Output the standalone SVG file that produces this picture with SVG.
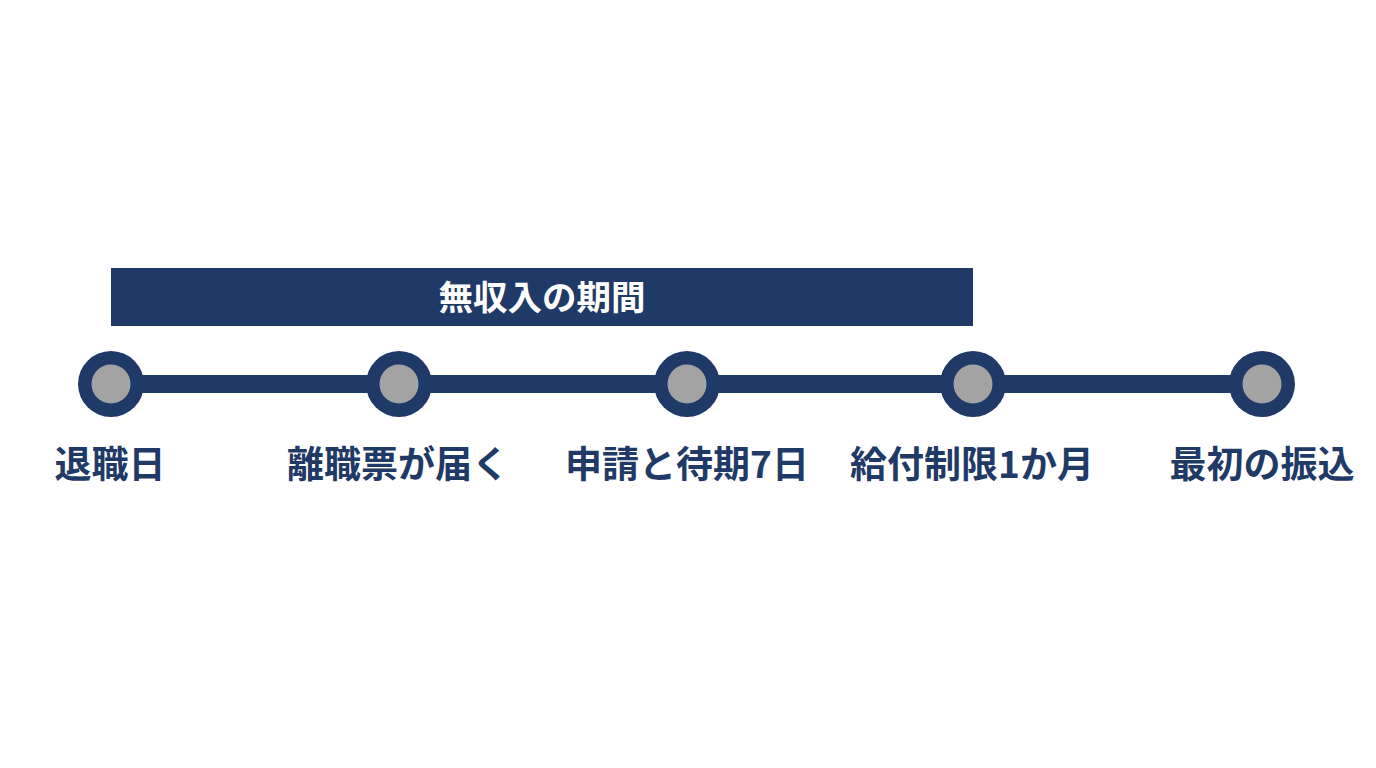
<svg xmlns="http://www.w3.org/2000/svg" width="1376" height="768" viewBox="0 0 1376 768">
<style>
.lbl{font-family:"Noto Sans CJK JP","Noto Sans",sans-serif;font-weight:700;font-size:37px;fill:#1f3a66;text-anchor:middle}
.ttl{font-family:"Noto Sans CJK JP","Noto Sans",sans-serif;font-weight:700;font-size:34.5px;fill:#ffffff;text-anchor:middle}
.outer{fill:#1f3a66}
.inner{fill:#a3a3a3}
</style>
<rect width="1376" height="768" fill="#ffffff"/>
<g id="period">
<rect x="111" y="268" width="862" height="58" fill="#1f3a66"/>
<text class="ttl" x="542" y="310">無収入の期間</text>
</g>
<g id="connectors">
<line x1="111" y1="384" x2="1262" y2="384" stroke="#1f3a66" stroke-width="18"/>
</g>
<g id="n1"><circle class="outer" cx="111" cy="384" r="33"/><circle class="inner" cx="111" cy="384" r="19.5"/><text class="lbl" x="110" y="478">退職日</text></g>
<g id="n2"><circle class="outer" cx="399" cy="384" r="33"/><circle class="inner" cx="399" cy="384" r="19.5"/><text class="lbl" x="398" y="478">離職票が届く</text></g>
<g id="n3"><circle class="outer" cx="687" cy="384" r="33"/><circle class="inner" cx="687" cy="384" r="19.5"/><text class="lbl" x="687" y="478">申請と待期7日</text></g>
<g id="n4"><circle class="outer" cx="973" cy="384" r="33"/><circle class="inner" cx="973" cy="384" r="19.5"/><text class="lbl" x="972" y="478">給付制限1か月</text></g>
<g id="n5"><circle class="outer" cx="1262" cy="384" r="33"/><circle class="inner" cx="1262" cy="384" r="19.5"/><text class="lbl" x="1262" y="478">最初の振込</text></g>
</svg>
